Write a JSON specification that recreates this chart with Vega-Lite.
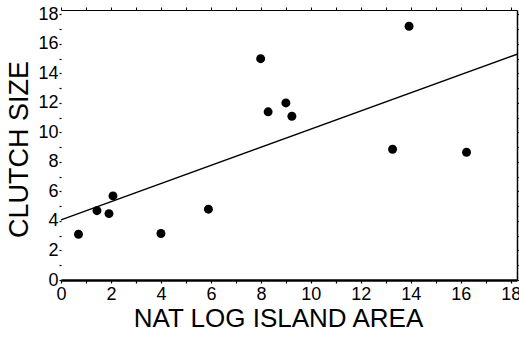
{
  "$schema": "https://vega.github.io/schema/vega-lite/v6.json",
  "width": 456,
  "height": 270,
  "autosize": "none",
  "padding": {"left": 61, "top": 10, "right": 2, "bottom": 57},
  "background": "white",
  "config": {
    "view": {"stroke": null},
    "font": "Liberation Sans",
    "axis": {"grid": false, "labelColor": "black", "titleColor": "black", "domainColor": "black", "tickColor": "black", "labelFont": "Liberation Sans", "titleFont": "Liberation Sans", "titleFontWeight": "normal", "labelOverlap": false, "labelFlush": false}
  },
  "datasets": {
    "pts": [
      {"area": 0.7, "clutch": 3.1},
      {"area": 1.44, "clutch": 4.7},
      {"area": 1.92, "clutch": 4.5},
      {"area": 2.08, "clutch": 5.7},
      {"area": 4.0, "clutch": 3.15},
      {"area": 5.9, "clutch": 4.8},
      {"area": 7.99, "clutch": 15.0},
      {"area": 8.29, "clutch": 11.4},
      {"area": 9.0, "clutch": 12.0},
      {"area": 9.24, "clutch": 11.1},
      {"area": 13.93, "clutch": 17.2},
      {"area": 13.27, "clutch": 8.86},
      {"area": 16.23, "clutch": 8.66}
    ],
    "fit": [
      {"area": 0, "clutch": 4.07},
      {"area": 18.25, "clutch": 15.3}
    ]
  },
  "layer": [
    {
      "data": {"name": "fit"},
      "mark": {"type": "line", "color": "black", "strokeWidth": 1.4},
      "encoding": {
        "x": {"field": "area", "type": "quantitative", "scale": {"domain": [0, 18.25], "nice": false, "zero": false},
          "axis": {"orient": "top", "title": null, "labels": false, "values": [0,1,2,3,4,5,6,7,8,9,10,11,12,13,14,15,16,17,18], "tickSize": 3, "domainWidth": 1.2, "tickWidth": 1}},
        "y": {"field": "clutch", "type": "quantitative", "scale": {"domain": [0, 18.3], "nice": false, "zero": false},
          "axis": {"orient": "right", "title": null, "labels": false, "values": [0,1,2,3,4,5,6,7,8,9,10,11,12,13,14,15,16,17,18], "tickSize": 2, "domainWidth": 1.5, "tickWidth": 1}}
      }
    },
    {
      "data": {"name": "fit"},
      "mark": {"type": "line", "opacity": 0},
      "encoding": {
        "x": {"field": "area", "type": "quantitative",
          "axis": {"orient": "bottom", "title": null, "labels": false, "domain": false, "values": [1,3,5,7,9,11,13,15,17], "tickSize": 3, "tickWidth": 1.2}},
        "y": {"field": "clutch", "type": "quantitative",
          "axis": {"orient": "left", "title": null, "labels": false, "domain": false, "values": [1,3,5,7,9,11,13,15,17], "tickSize": 2, "tickWidth": 1.2}}
      }
    },
    {
      "data": {"name": "pts"},
      "mark": {"type": "circle", "color": "black", "opacity": 1, "size": 80},
      "encoding": {
        "x": {"field": "area", "type": "quantitative",
          "axis": {"orient": "bottom", "title": "NAT LOG ISLAND AREA", "titleFontSize": 26, "titlePadding": 2, "titleX": 217, "values": [0,2,4,6,8,10,12,14,16,18], "labelFontSize": 18, "labelPadding": 2, "tickSize": 3, "domainWidth": 2.5, "tickWidth": 1.2}},
        "y": {"field": "clutch", "type": "quantitative",
          "axis": {"orient": "left", "title": "CLUTCH SIZE", "titleFontSize": 27, "titlePadding": 4, "titleY": 139, "values": [0,2,4,6,8,10,12,14,16,18], "labelFontSize": 18, "labelPadding": 1, "domain": false, "tickSize": 2, "tickWidth": 1.2}}
      }
    }
  ],
  "resolve": {"axis": {"x": "independent", "y": "independent"}}
}
